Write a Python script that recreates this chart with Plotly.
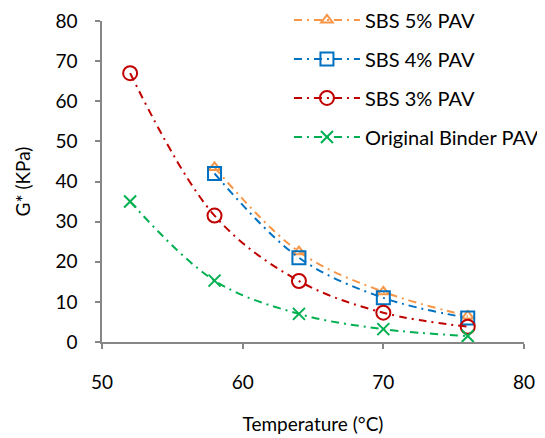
import plotly.graph_objects as go

temp_3 = [52, 58, 64, 70, 76]
sbs3 = [67.0, 31.5, 15.2, 7.3, 3.8]
temp_45 = [58, 64, 70, 76]
sbs4 = [42.0, 21.0, 11.0, 6.0]
sbs5 = [43.5, 22.5, 12.5, 6.5]
temp_o = [52, 58, 64, 70, 76]
orig = [35.0, 15.3, 7.0, 3.2, 1.5]

FONT = "Lato"
FS = 19
DASH = "8px,5px,2px,5px"

fig = go.Figure()

series = [
    ("SBS 5% PAV", temp_45, sbs5, "#F79646", "triangle-up-open", 10, 1),
    ("SBS 4% PAV", temp_45, sbs4, "#0070C0", "square-open", 13, 2),
    ("SBS 3% PAV", temp_3, sbs3, "#C00000", "circle-open", 14, 3),
    ("Original Binder PAV", temp_o, orig, "#00B050", "x-thin-open", 12, 4),
]
for name, xs, ys, col, sym, size, rank in series:
    fig.add_trace(go.Scatter(
        x=xs, y=ys, name=name, mode="lines+markers",
        line=dict(color=col, width=2, dash=DASH, shape="spline", smoothing=1),
        marker=dict(symbol=sym, size=size, color=col, line=dict(color=col, width=2)),
        legendgroup=name, legendrank=rank,
    ))

axis_common = dict(
    showgrid=False, zeroline=False, showline=True, linecolor="#868686", linewidth=1.5,
    ticks="outside", ticklen=5, tickcolor="#868686", tickwidth=1.5, automargin=False,
    tickfont=dict(family=FONT, size=FS, color="#000000"),
)

fig.update_xaxes(range=[50, 80], tickvals=[50, 60, 70, 80], ticklabelstandoff=17,
                 title=dict(text="Temperature (°C)", font=dict(family=FONT, size=FS, color="#000"), standoff=26),
                 **axis_common)
fig.update_yaxes(range=[0, 80], tickvals=[0, 10, 20, 30, 40, 50, 60, 70, 80], ticklabelstandoff=14,
                 title=dict(text="G* (KPa)", font=dict(family=FONT, size=FS, color="#000"), standoff=20),
                 **axis_common)

fig.update_layout(
    width=537, height=430,
    margin=dict(l=94, r=21, t=13, b=96, autoexpand=False),
    paper_bgcolor="white", plot_bgcolor="white",
    font=dict(family=FONT, size=FS, color="#000"),
    legend=dict(x=0.443, y=1.064, xanchor="left", yanchor="top",
                bgcolor="rgba(255,255,255,0)", itemwidth=66, tracegroupgap=10,
                font=dict(family=FONT, size=20, color="#000")),
)

fig.write_html("out.html")
